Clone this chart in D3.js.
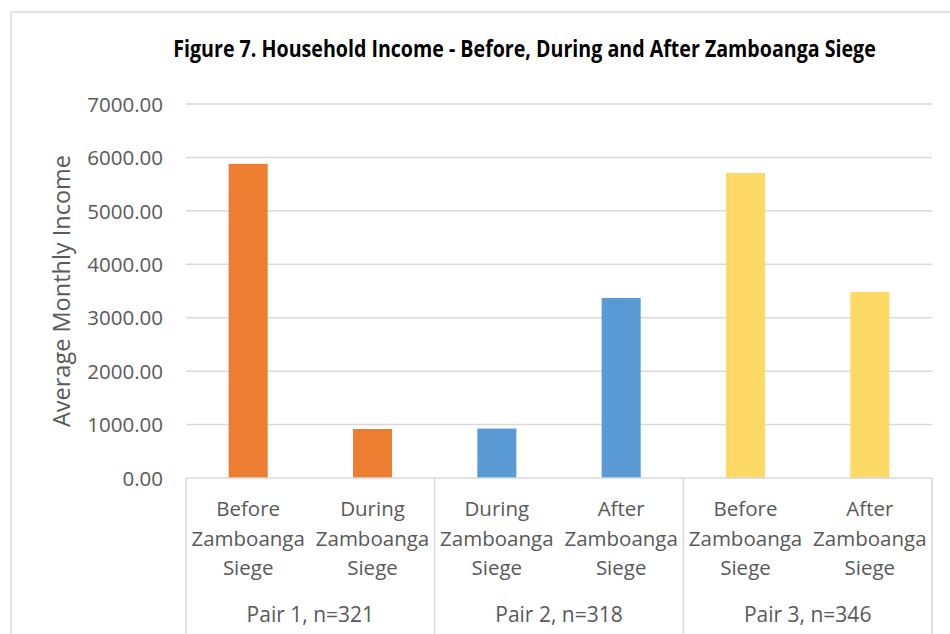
<!DOCTYPE html>
<html>
<head>
<meta charset="utf-8">
<script src="https://cdn.jsdelivr.net/npm/d3@7"></script>
<style>
html, body { margin: 0; padding: 0; background: #fff; }
text { font-family: "Open Sans", sans-serif; }
</style>
</head>
<body>
<svg id="chart" width="950" height="634"></svg>
<script>
const titleText = "Figure 7. Household Income - Before, During and After Zamboanga Siege";
const yAxisTitle = "Average Monthly Income";
const barLabels = [
  ["Before", "Zamboanga", "Siege"],
  ["During", "Zamboanga", "Siege"],
  ["During", "Zamboanga", "Siege"],
  ["After", "Zamboanga", "Siege"],
  ["Before", "Zamboanga", "Siege"],
  ["After", "Zamboanga", "Siege"]
];
const pairLabels = ["Pair 1, n=321", "Pair 2, n=318", "Pair 3, n=346"];
const pairOfBar = [0, 0, 1, 1, 2, 2];
const values = [5880, 917, 925, 3370, 5710, 3483];
const pairColors = ["#ED7D31", "#5B9BD5", "#FFD966"];
const yTicks = [0, 1000, 2000, 3000, 4000, 5000, 6000, 7000];

const svg = d3.select("#chart");
const plotL = 186, plotR = 932, plotT = 104, plotB = 478;
const textColor = "#595959", gridColor = "#D9D9D9";

// chart border
svg.append("rect").attr("x", 11).attr("y", 12).attr("width", 960).attr("height", 640)
  .attr("fill", "none").attr("stroke", gridColor).attr("stroke-width", 1.5);

const x = d3.scaleBand().domain(d3.range(values.length)).range([plotL, plotR]).paddingInner(0.686).paddingOuter(0.343);
const xPair = d3.scaleBand().domain(d3.range(pairLabels.length)).range([plotL, plotR]);
const y = d3.scaleLinear().domain([0, 7000]).range([plotB, plotT]);

// gridlines
svg.append("g").selectAll("line").data(yTicks.filter(d => d > 0)).join("line")
  .attr("x1", plotL).attr("x2", plotR)
  .attr("y1", d => y(d)).attr("y2", d => y(d))
  .attr("stroke", gridColor).attr("stroke-width", 1.5);

// y tick labels via axis
const yAxis = d3.axisLeft(y).tickValues(yTicks).tickFormat(d3.format(".2f")).tickSize(0).tickPadding(0);
const yg = svg.append("g").attr("transform", `translate(163,0)`).call(yAxis);
yg.select(".domain").remove();
yg.selectAll("text").attr("fill", textColor).style("font-size", "20.5px")
  .style("font-family", "'Open Sans', sans-serif").attr("dy", "0.35em");

// bars
svg.append("g").selectAll("rect").data(values).join("rect")
  .attr("x", (d, i) => x(i)).attr("width", x.bandwidth())
  .attr("y", d => y(d)).attr("height", d => y(0) - y(d))
  .attr("fill", (d, i) => pairColors[pairOfBar[i]]);

// category axis: baseline and dividers
svg.append("line").attr("x1", plotL).attr("x2", plotR).attr("y1", plotB).attr("y2", plotB)
  .attr("stroke", gridColor).attr("stroke-width", 1.5);
const dividers = [0, 1, 2].map(i => xPair(i)).concat([plotR]);
svg.append("g").selectAll("line").data(dividers).join("line")
  .attr("x1", d => d).attr("x2", d => d).attr("y1", plotB).attr("y2", 640)
  .attr("stroke", gridColor).attr("stroke-width", 1.5);

// bar labels
const lab = svg.append("g");
barLabels.forEach((lines, i) => {
  const cx = x(i) + x.bandwidth() / 2;
  lines.forEach((t, j) => {
    lab.append("text").attr("x", cx).attr("y", 516 + j * 29.5)
      .attr("text-anchor", "middle").attr("fill", textColor)
      .style("font-size", "20.5px").text(t);
  });
});
// pair labels
svg.append("g").selectAll("text").data(pairLabels).join("text")
  .attr("x", (d, i) => xPair(i) + xPair.bandwidth() / 2).attr("y", 622)
  .attr("text-anchor", "middle").attr("fill", textColor)
  .style("font-size", "21px").text(d => d);

// y axis title
svg.append("text").attr("transform", `translate(70, ${(plotT + plotB) / 2}) rotate(-90)`)
  .attr("text-anchor", "middle").attr("fill", textColor)
  .style("font-size", "23.5px").text(yAxisTitle);

// title: bold, horizontally condensed to match the reference width
const tg = svg.append("g");
const tt = tg.append("text").attr("x", 0).attr("y", 0).attr("text-anchor", "middle")
  .attr("fill", "#000").style("font-size", "24px").style("font-weight", "bold").text(titleText);
const natural = tt.node().getComputedTextLength();
const sx = 703 / natural;
tg.attr("transform", `translate(524.5, 57) scale(${sx}, 1)`);
</script>
</body>
</html>
